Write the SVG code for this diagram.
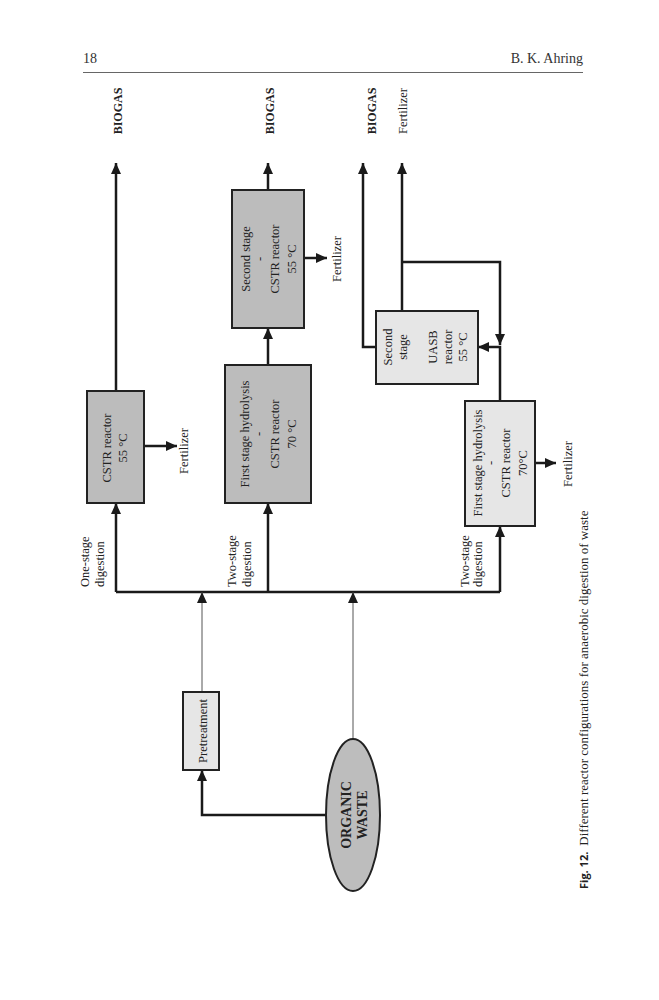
<svg xmlns="http://www.w3.org/2000/svg" width="659" height="1000" viewBox="0 0 659 1000">
<style>
.t{font-family:"Liberation Serif","Times New Roman",serif;font-size:12.5px;fill:#222;dominant-baseline:central}
.m{text-anchor:middle}
.b{font-weight:bold}
.dark{fill:#bcbcbc;stroke:#222;stroke-width:2}
.light{fill:#e6e6e6;stroke:#222;stroke-width:2}
.c{fill:none;stroke:#1a1a1a;stroke-width:2.5}
.thin{fill:none;stroke:#555;stroke-width:1}
</style>
<defs>
<marker id="ah" markerUnits="userSpaceOnUse" markerWidth="11" markerHeight="10" refX="11" refY="5" orient="auto">
<path d="M0,0 L11,5 L0,10 z" fill="#1a1a1a"/>
</marker>
</defs>
<rect width="659" height="1000" fill="#fff"/>
<g id="header">
<text x="83" y="63" style="font-family:'Liberation Serif',serif;font-size:14px;fill:#333">18</text>
<text x="583" y="63" text-anchor="end" style="font-family:'Liberation Serif',serif;font-size:14px;fill:#333">B. K. Ahring</text>
<line x1="83" y1="72.5" x2="583" y2="72.5" stroke="#666" stroke-width="1"/>
</g>
<g id="connectors">
<path class="c" d="M116,592 L500,592"/>
<path class="c" d="M116,592 L116,503" marker-end="url(#ah)"/>
<path class="c" d="M268,592 L268,503" marker-end="url(#ah)"/>
<path class="c" d="M500,592 L500,526" marker-end="url(#ah)"/>
<path class="c" d="M116,391 L116,163" marker-end="url(#ah)"/>
<path class="c" d="M268,190 L268,163" marker-end="url(#ah)"/>
<path class="c" d="M268,365 L268,328" marker-end="url(#ah)"/>
<path class="c" d="M144,446 L177,446" marker-end="url(#ah)"/>
<path class="c" d="M304,258 L327,258" marker-end="url(#ah)"/>
<path class="c" d="M535,463 L556,463" marker-end="url(#ah)"/>
<path class="c" d="M376,347 L363,347 L363,163" marker-end="url(#ah)"/>
<path class="c" d="M402,311 L402,163" marker-end="url(#ah)"/>
<path class="c" d="M402,262 L500,262 L500,345" marker-end="url(#ah)"/>
<path class="c" d="M500,401 L500,347 L478,347" marker-end="url(#ah)"/>
<path class="thin" d="M202,692 L202,592" marker-end="url(#ah)"/>
<path class="thin" d="M353,739 L353,592" marker-end="url(#ah)"/>
<path class="c" d="M327,815 L202,815 L202,770" marker-end="url(#ah)"/>
</g>
<g id="cstr1">
<rect class="dark" x="87" y="391" width="57" height="112"/>
<text class="t m" transform="translate(107,448) rotate(-90)">CSTR reactor</text>
<text class="t m" transform="translate(123,448) rotate(-90)">55 °C</text>
</g>
<g id="first-stage-1">
<rect class="dark" x="225" y="365" width="86" height="138"/>
<text class="t m" transform="translate(245,434) rotate(-90)">First stage hydrolysis</text>
<text class="t m" transform="translate(259,434) rotate(-90)">-</text>
<text class="t m" transform="translate(275,434) rotate(-90)">CSTR reactor</text>
<text class="t m" transform="translate(292,434) rotate(-90)">70 °C</text>
</g>
<g id="second-stage-1">
<rect class="dark" x="232" y="190" width="72" height="138"/>
<text class="t m" transform="translate(246,259) rotate(-90)">Second stage</text>
<text class="t m" transform="translate(260,259) rotate(-90)">-</text>
<text class="t m" transform="translate(275,259) rotate(-90)">CSTR reactor</text>
<text class="t m" transform="translate(292,259) rotate(-90)">55 °C</text>
</g>
<g id="uasb">
<rect class="light" x="376" y="311" width="102" height="73"/>
<text class="t m" transform="translate(388,347) rotate(-90)">Second</text>
<text class="t m" transform="translate(403,347) rotate(-90)">stage</text>
<text class="t m" transform="translate(433,347) rotate(-90)">UASB</text>
<text class="t m" transform="translate(448,347) rotate(-90)">reactor</text>
<text class="t m" transform="translate(463,347) rotate(-90)">55 °C</text>
</g>
<g id="first-stage-2">
<rect class="light" x="465" y="401" width="70" height="125"/>
<text class="t m" transform="translate(478,463) rotate(-90)">First stage hydrolysis</text>
<text class="t m" transform="translate(491,463) rotate(-90)">-</text>
<text class="t m" transform="translate(506,463) rotate(-90)">CSTR  reactor</text>
<text class="t m" transform="translate(523,463) rotate(-90)">70°C</text>
</g>
<g id="pretreatment">
<rect class="light" x="183" y="692" width="36" height="78"/>
<text class="t m" transform="translate(203,731) rotate(-90)">Pretreatment</text>
</g>
<g id="organic-waste">
<ellipse cx="353" cy="815" rx="27" ry="76" fill="#bdbdbd" stroke="#222" stroke-width="2"/>
<text class="t m b" style="font-size:14px" transform="translate(346,815) rotate(-90)">ORGANIC</text>
<text class="t m b" style="font-size:14px" transform="translate(362,815) rotate(-90)">WASTE</text>
</g>
<g id="labels">
<text class="t m b" style="font-size:12px" transform="translate(118,111) rotate(-90)">BIOGAS</text>
<text class="t m b" style="font-size:12px" transform="translate(270,111) rotate(-90)">BIOGAS</text>
<text class="t m b" style="font-size:12px" transform="translate(372,111) rotate(-90)">BIOGAS</text>
<text class="t m" transform="translate(403,111) rotate(-90)">Fertilizer</text>
<text class="t m" transform="translate(184,451) rotate(-90)">Fertilizer</text>
<text class="t m" transform="translate(337,259) rotate(-90)">Fertilizer</text>
<text class="t m" transform="translate(568,464) rotate(-90)">Fertilizer</text>
<text class="t" transform="translate(85,587) rotate(-90)">One-stage</text>
<text class="t" transform="translate(100,587) rotate(-90)">digestion</text>
<text class="t" transform="translate(232,587) rotate(-90)">Two-stage</text>
<text class="t" transform="translate(247,587) rotate(-90)">digestion</text>
<text class="t" transform="translate(465,587) rotate(-90)">Two-stage</text>
<text class="t" transform="translate(478,587) rotate(-90)">digestion</text>
</g>
<g id="caption">
<text transform="translate(583,889) rotate(-90)" style="font-family:'Open Sans','Liberation Sans',sans-serif;font-size:11px;fill:#222;dominant-baseline:central"><tspan font-weight="bold">Fig. 12.</tspan><tspan dx="6" style="font-family:'Liberation Serif',serif;font-size:13px">Different reactor configurations for anaerobic digestion of waste</tspan></text>
</g>
</svg>
